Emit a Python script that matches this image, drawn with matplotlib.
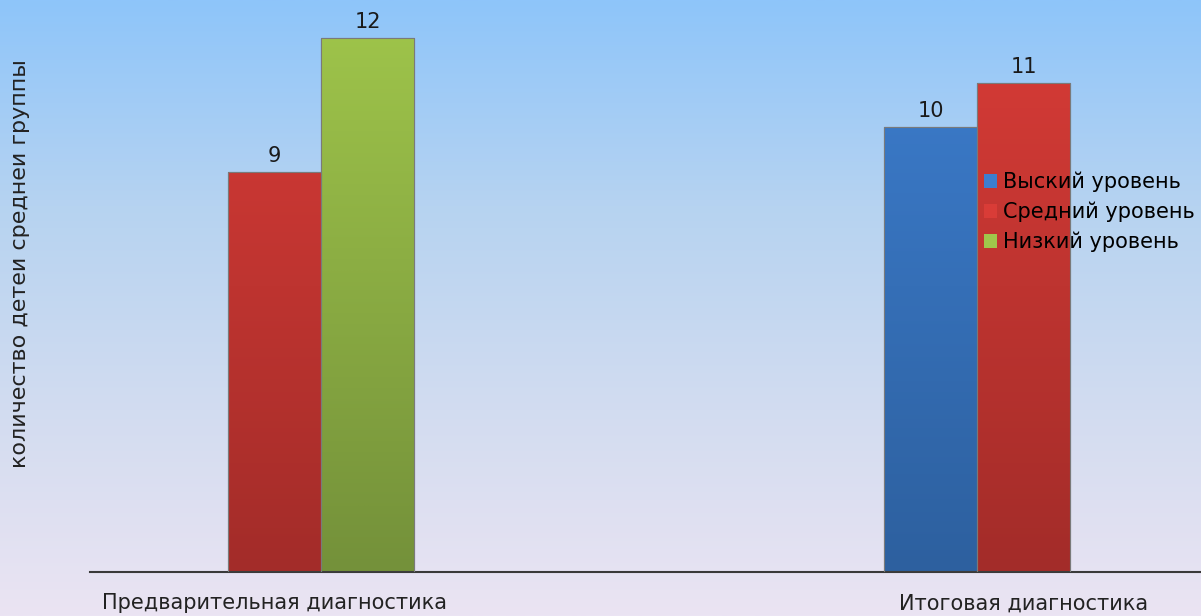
import numpy as np
import matplotlib
matplotlib.use("Agg")
import matplotlib.pyplot as plt
from matplotlib.colors import LinearSegmentedColormap
from matplotlib.patches import Patch

categories = ["Предварительная диагностика", "Итоговая диагностика"]
series_names = ["Выский уровень", "Средний уровень", "Низкий уровень"]
high = [0, 10]
medium = [9, 11]
low = [12, 0]
ylabel = "количество детеи среднеи группы"

plt.rcParams['font.family'] = ['DejaVu Sans']

W, H = 1201, 616
fig = plt.figure(figsize=(W / 100, H / 100), dpi=100)

# background gradient
bg = fig.add_axes([0, 0, 1, 1], zorder=-10)
bg.axis('off')
bgcmap = LinearSegmentedColormap.from_list('bg', ['#8ec5fa', '#b6d3f1', '#d2dcf0', '#ebe4f3'])
bg.imshow(np.linspace(0, 1, 256).reshape(-1, 1), aspect='auto', cmap=bgcmap,
          extent=[0, 1, 0, 1], origin='upper')
bg.set_xlim(0, 1); bg.set_ylim(0, 1)

ax = fig.add_axes([90 / W, 1 - 572 / H, (W - 90) / W, 572 / H])
ax.set_facecolor('none')

unit = 749.0  # px per category
w = 93 / unit
x = np.arange(len(categories))
XL = (-(274.5 - 90) / unit, 1 + (W - 1023.5) / unit)
YL = (0, 572 / 44.5)
ax.set_xlim(*XL)
ax.set_ylim(*YL)

grads = [('#3d7ecf', '#2d609f'), ('#d93c37', '#a32c29'), ('#a0c64b', '#74913a')]
vals = [high, medium, low]
for i, (v, (ctop, cbot)) in enumerate(zip(vals, grads)):
    bars = ax.bar(x + (i - 1) * w, v, width=w, color=ctop, edgecolor='#7a7a7a',
                  linewidth=0.8, label=series_names[i], zorder=2)
    cm = LinearSegmentedColormap.from_list('g%d' % i, [cbot, ctop])
    for b, val in zip(bars, v):
        if val <= 0:
            b.set_visible(False)
            continue
        x0 = b.get_x()
        im = ax.imshow(np.linspace(0, 1, 128).reshape(-1, 1), aspect='auto', cmap=cm,
                       extent=[x0, x0 + b.get_width(), 0, YL[1]],
                       origin='lower', zorder=2.5, interpolation='bilinear')
        im.set_clip_path(b)
        ax.bar(b.get_x() + b.get_width() / 2, val, width=b.get_width(), fill=False,
               edgecolor='#7a7a7a', linewidth=0.8, zorder=3)
        ax.text(b.get_x() + b.get_width() / 2, val + 0.13, str(val), ha='center',
                va='bottom', fontsize=15, color='#1a1a1a', zorder=4)

ax.set_xlim(*XL)
ax.set_ylim(*YL)

for s in ['top', 'right', 'left']:
    ax.spines[s].set_visible(False)
ax.spines['bottom'].set_color('#3a3a3a')
ax.spines['bottom'].set_linewidth(1.5)
ax.set_xticks([]); ax.set_yticks([])

# category labels centred on the groups
for lbl, xi in zip(categories, x):
    ax.text(xi, -0.7, lbl, ha='center', va='center', fontsize=15, color='#222222',
            clip_on=False)

fig.text(20 / W, 1 - 264 / H, ylabel, rotation=90, ha='center', va='center',
         fontsize=16, color='#222222')

leg_handles = [Patch(facecolor=grads[i][0], edgecolor='none') for i in range(3)]
leg = ax.legend(leg_handles, series_names, loc='upper left',
                bbox_to_anchor=(984 / W, 1 - 172 / H), bbox_transform=fig.transFigure,
                frameon=False, fontsize=15, handlelength=0.6, handleheight=0.65,
                handletextpad=0.3, labelspacing=0.45, borderaxespad=0, borderpad=0)
leg.set_zorder(10)

fig.savefig('out.png', dpi=100)
